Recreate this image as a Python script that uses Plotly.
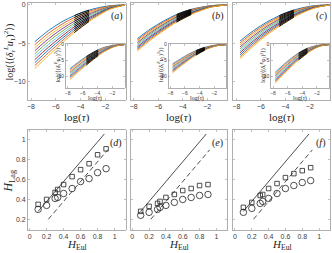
import plotly.graph_objects as go

W, H = 332, 253

# ---------------- data ----------------
tau_grid = [-7.7, -6.6, -5.5, -4.5, -3.9, -3.3, -2.7, -1.6, -0.4]

main_a = [
    [-4.80, -3.35, -2.20, -1.40, -1.00, -0.68, -0.42, -0.10, 0.00],
    [-5.19, -3.71, -2.51, -1.64, -1.21, -0.84, -0.55, -0.15, 0.00],
    [-5.58, -4.07, -2.82, -1.89, -1.41, -1.01, -0.67, -0.20, 0.00],
    [-5.97, -4.43, -3.13, -2.13, -1.62, -1.17, -0.80, -0.25, -0.01],
    [-6.36, -4.79, -3.44, -2.38, -1.82, -1.33, -0.92, -0.30, -0.01],
    [-6.74, -5.16, -3.76, -2.62, -2.03, -1.50, -1.05, -0.35, -0.01],
    [-7.13, -5.52, -4.07, -2.86, -2.23, -1.66, -1.17, -0.40, -0.01],
    [-7.52, -5.88, -4.38, -3.11, -2.44, -1.82, -1.30, -0.45, -0.02],
    [-7.91, -6.24, -4.69, -3.35, -2.64, -1.99, -1.43, -0.50, -0.02],
    [-8.30, -6.60, -5.00, -3.60, -2.85, -2.15, -1.55, -0.55, -0.02],
]
main_b = [
    [-4.40, -3.10, -2.05, -1.25, -0.88, -0.58, -0.36, -0.08, 0.00],
    [-4.58, -3.26, -2.19, -1.36, -0.97, -0.65, -0.41, -0.10, 0.00],
    [-4.76, -3.42, -2.33, -1.47, -1.07, -0.73, -0.47, -0.12, 0.00],
    [-4.93, -3.58, -2.47, -1.58, -1.16, -0.80, -0.52, -0.14, 0.00],
    [-5.11, -3.74, -2.61, -1.69, -1.25, -0.88, -0.58, -0.16, 0.00],
    [-5.29, -3.91, -2.74, -1.81, -1.35, -0.95, -0.63, -0.19, -0.01],
    [-5.47, -4.07, -2.88, -1.92, -1.44, -1.02, -0.69, -0.21, -0.01],
    [-5.64, -4.23, -3.02, -2.03, -1.53, -1.10, -0.74, -0.23, -0.01],
    [-5.82, -4.39, -3.16, -2.14, -1.63, -1.17, -0.80, -0.25, -0.01],
    [-6.00, -4.55, -3.30, -2.25, -1.72, -1.25, -0.85, -0.27, -0.01],
]
main_c = [
    [-4.70, -3.35, -2.22, -1.40, -1.00, -0.67, -0.41, -0.09, 0.00],
    [-4.96, -3.57, -2.41, -1.56, -1.13, -0.77, -0.49, -0.13, 0.00],
    [-5.21, -3.79, -2.60, -1.71, -1.26, -0.88, -0.57, -0.16, 0.00],
    [-5.47, -4.02, -2.79, -1.87, -1.39, -0.98, -0.65, -0.20, 0.00],
    [-5.72, -4.24, -2.98, -2.02, -1.52, -1.08, -0.73, -0.23, 0.00],
    [-5.98, -4.46, -3.16, -2.18, -1.66, -1.19, -0.80, -0.27, -0.01],
    [-6.23, -4.68, -3.35, -2.33, -1.79, -1.29, -0.88, -0.30, -0.01],
    [-6.49, -4.91, -3.54, -2.49, -1.92, -1.39, -0.96, -0.34, -0.01],
    [-6.74, -5.13, -3.73, -2.64, -2.05, -1.50, -1.04, -0.37, -0.01],
    [-7.00, -5.35, -3.92, -2.80, -2.18, -1.60, -1.12, -0.41, -0.01],
]
inset_a = [
    [-7.50, -5.50, -3.70, -2.30, -1.60, -1.00, -0.60, -0.12, 0.00],
    [-7.88, -5.84, -4.00, -2.54, -1.81, -1.17, -0.73, -0.16, 0.00],
    [-8.26, -6.19, -4.30, -2.79, -2.02, -1.34, -0.86, -0.20, 0.00],
    [-8.63, -6.53, -4.60, -3.03, -2.23, -1.52, -0.98, -0.25, -0.01],
    [-9.01, -6.88, -4.90, -3.28, -2.44, -1.69, -1.11, -0.29, -0.01],
    [-9.39, -7.22, -5.20, -3.52, -2.66, -1.86, -1.24, -0.33, -0.01],
    [-9.77, -7.57, -5.50, -3.77, -2.87, -2.03, -1.37, -0.37, -0.01],
    [-10.14, -7.91, -5.80, -4.01, -3.08, -2.21, -1.49, -0.42, -0.02],
    [-10.52, -8.26, -6.10, -4.26, -3.29, -2.38, -1.62, -0.46, -0.02],
    [-10.90, -8.60, -6.40, -4.50, -3.50, -2.55, -1.75, -0.50, -0.02],
]
inset_b = [
    [-6.00, -4.40, -2.95, -1.85, -1.30, -0.85, -0.50, -0.10, 0.00],
    [-6.31, -4.67, -3.17, -2.01, -1.43, -0.95, -0.57, -0.13, 0.00],
    [-6.62, -4.93, -3.38, -2.17, -1.57, -1.05, -0.64, -0.16, 0.00],
    [-6.93, -5.20, -3.60, -2.33, -1.70, -1.15, -0.72, -0.18, 0.00],
    [-7.24, -5.47, -3.82, -2.49, -1.83, -1.25, -0.79, -0.21, 0.00],
    [-7.56, -5.73, -4.03, -2.66, -1.97, -1.35, -0.86, -0.24, -0.01],
    [-7.87, -6.00, -4.25, -2.82, -2.10, -1.45, -0.93, -0.27, -0.01],
    [-8.18, -6.27, -4.47, -2.98, -2.23, -1.55, -1.01, -0.29, -0.01],
    [-8.49, -6.53, -4.68, -3.14, -2.37, -1.65, -1.08, -0.32, -0.01],
    [-8.80, -6.80, -4.90, -3.30, -2.50, -1.75, -1.15, -0.35, -0.01],
]
inset_c = [
    [-8.60, -6.30, -4.20, -2.60, -1.80, -1.15, -0.65, -0.12, 0.00],
    [-8.98, -6.64, -4.50, -2.84, -2.01, -1.32, -0.78, -0.16, 0.00],
    [-9.36, -6.99, -4.80, -3.09, -2.22, -1.48, -0.91, -0.20, 0.00],
    [-9.73, -7.33, -5.10, -3.33, -2.43, -1.65, -1.03, -0.25, -0.01],
    [-10.11, -7.68, -5.40, -3.58, -2.64, -1.82, -1.16, -0.29, -0.01],
    [-10.49, -8.02, -5.70, -3.82, -2.86, -1.98, -1.29, -0.33, -0.01],
    [-10.87, -8.37, -6.00, -4.07, -3.07, -2.15, -1.42, -0.37, -0.01],
    [-11.24, -8.71, -6.30, -4.31, -3.28, -2.32, -1.54, -0.42, -0.02],
    [-11.62, -9.06, -6.60, -4.56, -3.49, -2.48, -1.67, -0.46, -0.02],
    [-12.00, -9.40, -6.90, -4.80, -3.70, -2.65, -1.80, -0.50, -0.02],
]

h_eul = [0.1, 0.2, 0.3, 0.33, 0.4, 0.5, 0.6, 0.7, 0.8, 0.9]
hlag_sq_d = [0.35, 0.40, 0.47, 0.50, 0.55, 0.63, 0.70, 0.76, 0.85, 0.91]
hlag_ci_d = [0.30, 0.34, 0.41, 0.42, 0.46, 0.51, 0.58, 0.61, 0.67, 0.71]
hlag_sq_e = [0.28, 0.33, 0.36, 0.38, 0.42, 0.45, 0.49, 0.51, 0.54, 0.55]
hlag_ci_e = [0.24, 0.27, 0.30, 0.32, 0.34, 0.37, 0.40, 0.42, 0.44, 0.45]
hlag_sq_f = [0.32, 0.37, 0.44, 0.45, 0.51, 0.56, 0.62, 0.66, 0.69, 0.72]
hlag_ci_f = [0.27, 0.31, 0.36, 0.38, 0.41, 0.46, 0.51, 0.54, 0.57, 0.59]

ref_solid_x = [0.1, 0.88]
ref_solid_y = [0.28, 1.06]
ref_dash_x = [0.22, 0.92]
ref_dash_y = [0.20, 0.90]

colors = ["#0072BD", "#D95319", "#EDB120", "#7E2F8E", "#77AC30", "#4DBEEE", "#A2142F"]

# ---------------- layout helpers ----------------
def xd(p0, p1):
    return [p0 / W, p1 / W]

def yd(top, bottom):
    return [1 - bottom / H, 1 - top / H]

frame = "#9a9a9a"
tickfont_main = dict(family="Liberation Sans, Arial", size=7, color="#404040")
tickfont_in = dict(family="Liberation Sans, Arial", size=5, color="#404040")

def axis(domain, rng, tickvals, anchor, font, showlabels=True, ticktext=None):
    d = dict(domain=domain, range=rng, tickvals=tickvals, anchor=anchor,
             showline=True, linecolor=frame, linewidth=0.8, mirror="ticks",
             ticks="inside", ticklen=2, tickcolor=frame, tickwidth=0.6,
             showgrid=False, zeroline=False, tickfont=font,
             showticklabels=showlabels, fixedrange=True)
    if ticktext is not None:
        d["ticktext"] = ticktext
    return d

fig = go.Figure()

top_x = [(27, 125), (130, 227), (233, 330)]
inset_x = [(65, 124), (168, 226), (271, 329)]
main_sets = [main_a, main_b, main_c]
inset_sets = [inset_a, inset_b, inset_c]
main_black = (3, 5)
inset_black = [(2, 4), (3, 5), (3, 5)]

layout = {}
main_yrng = [-12.4, 0.25]
inset_yrng = [-13.6, 0.3]
xrng = [-8.25, -0.35]

for i in range(3):
    n = i + 1
    layout[f"xaxis{n}"] = axis(xd(*top_x[i]), xrng, [-8, -6, -4, -2], f"y{n}", tickfont_main)
    layout[f"yaxis{n}"] = axis(yd(1, 99), main_yrng, [-10, -5, 0], f"x{n}", tickfont_main, showlabels=(i == 0))
    m = i + 4
    layout[f"xaxis{m}"] = axis(xd(*inset_x[i]), xrng, [-8, -6, -4, -2], f"y{m}", tickfont_in)
    layout[f"yaxis{m}"] = axis(yd(42, 87), inset_yrng, [-10, -5, 0], f"x{m}", tickfont_in)
    b = i + 7
    layout[f"xaxis{b}"] = axis(xd(*top_x[i]), [-0.02, 1.13], [0, 0.2, 0.4, 0.6, 0.8, 1],
                               f"y{b}", tickfont_main, ticktext=["0", "0.2", "0.4", "0.6", "0.8", "1"])
    layout[f"yaxis{b}"] = axis(yd(129, 230), [0.09, 1.1], [0.2, 0.4, 0.6, 0.8, 1], f"x{b}",
                               tickfont_main, showlabels=(i == 0), ticktext=["0.2", "0.4", "0.6", "0.8", "1"])

# curves
for i in range(3):
    for (sets, ax, blk, lw) in [(main_sets[i], i + 1, main_black, 0.9),
                                (inset_sets[i], i + 4, inset_black[i], 0.7)]:
        xa = "x" if ax == 1 else f"x{ax}"
        ya = "y" if ax == 1 else f"y{ax}"
        for k, vals in enumerate(sets):
            fig.add_trace(go.Scatter(x=tau_grid, y=vals, mode="lines",
                                     line=dict(color=colors[k % 7], width=lw, shape="spline", smoothing=1.0),
                                     xaxis=xa, yaxis=ya, showlegend=False, hoverinfo="skip"))
        for k, vals in enumerate(sets):
            a0, a1 = blk
            fig.add_trace(go.Scatter(x=tau_grid[a0:a1 + 1], y=vals[a0:a1 + 1], mode="lines",
                                     line=dict(color="black", width=lw, shape="spline", smoothing=1.0),
                                     xaxis=xa, yaxis=ya, showlegend=False, hoverinfo="skip"))

# H panels
sq_sets = [hlag_sq_d, hlag_sq_e, hlag_sq_f]
ci_sets = [hlag_ci_d, hlag_ci_e, hlag_ci_f]
for i in range(3):
    b = i + 7
    xa, ya = f"x{b}", f"y{b}"
    fig.add_trace(go.Scatter(x=ref_solid_x, y=ref_solid_y, mode="lines",
                             line=dict(color="#222", width=0.8), xaxis=xa, yaxis=ya,
                             showlegend=False, hoverinfo="skip"))
    fig.add_trace(go.Scatter(x=ref_dash_x, y=ref_dash_y, mode="lines",
                             line=dict(color="#222", width=0.8, dash="5px,3px"), xaxis=xa, yaxis=ya,
                             showlegend=False, hoverinfo="skip"))
    fig.add_trace(go.Scatter(x=h_eul, y=sq_sets[i], mode="markers",
                             marker=dict(symbol="square-open", size=4.5, color="#222", line=dict(width=0.8)),
                             xaxis=xa, yaxis=ya, showlegend=False, hoverinfo="skip"))
    fig.add_trace(go.Scatter(x=h_eul, y=ci_sets[i], mode="markers",
                             marker=dict(symbol="circle-open", size=6.5, color="#222", line=dict(width=0.8)),
                             xaxis=xa, yaxis=ya, showlegend=False, hoverinfo="skip"))

# annotations
serif = "Liberation Serif, DejaVu Serif, serif"
ann = []

def add_text(px, py, text, size, angle=0, color="#222"):
    ann.append(dict(x=px / W, y=1 - py / H, xref="paper", yref="paper", text=text,
                    showarrow=False, textangle=angle, xanchor="center", yanchor="middle",
                    font=dict(family=serif, size=size, color=color)))

labels_top = ["(<i>a</i>)", "(<i>b</i>)", "(<i>c</i>)"]
labels_bot = ["(<i>d</i>)", "(<i>e</i>)", "(<i>f</i>)"]
for i in range(3):
    x0, x1 = top_x[i]
    add_text(x1 - 9, 14, labels_top[i], 10)
    add_text(x1 - 10, 142, labels_bot[i], 10)
    add_text((x0 + x1) / 2, 116, "log(<i>τ</i>)", 11)
    add_text((x0 + x1) / 2, 245, "<i>H</i><sub>Eul</sub>", 11)
    ix0, ix1 = inset_x[i]
    add_text((ix0 + ix1) / 2, 97, "log(<i>τ</i>)", 6)
    add_text(ix0 - 8, 64, "log(⟨(<i>δ</i><sub><i>τ</i></sub><sup><i>E</i></sup><i>u</i><sub>1</sub>)<sup>2</sup>⟩)", 6, angle=-90)

add_text(8, 50, "log(⟨(<i>δ</i><sub><i>τ</i></sub><sup><i>L</i></sup><i>u</i><sub>1</sub>)<sup>2</sup>⟩)", 10, angle=-90)
add_text(8, 180, "<i>H</i><sub>Lag</sub>", 12, angle=-90)

fig.update_layout(width=W, height=H, autosize=False,
                  margin=dict(l=0, r=0, t=0, b=0),
                  paper_bgcolor="white", plot_bgcolor="white",
                  annotations=ann, showlegend=False, **layout)

fig.write_html("out.html", config={"displayModeBar": False, "staticPlot": True},
               post_script="document.body.style.margin='0';document.body.style.padding='0';document.body.style.overflow='hidden';")
